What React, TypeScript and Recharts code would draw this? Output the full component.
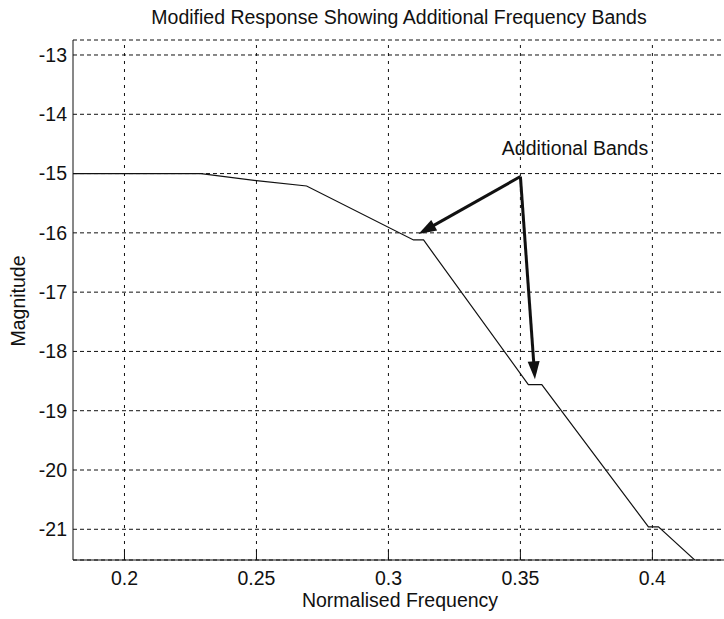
import { LineChart, Line, XAxis, YAxis, CartesianGrid, ReferenceLine, ReferenceDot } from 'recharts';

document.body.style.margin = '0';

const freq = [0.1805, 0.229, 0.25, 0.269, 0.3095, 0.3133, 0.353, 0.3581, 0.3985, 0.4023, 0.4161];
const magnitude = [-15, -15, -15.12, -15.21, -16.12, -16.12, -18.56, -18.56, -20.96, -20.96, -21.52];
const xTicks = [0.2, 0.25, 0.3, 0.35, 0.4];
const yTicks = [-13, -14, -15, -16, -17, -18, -19, -20, -21];
const xDomain = [0.1805, 0.4294];
const yDomain = [-21.518, -12.747];

// annotation: one origin, two arrow targets, and the note above it
const arrowFrom = { f: 0.35, m: -15.05 };
const arrowTo = [
  { f: 0.3114, m: -16.02 },
  { f: 0.3555, m: -18.47 },
];
const noteText = 'Additional Bands';
const notePos = { f: 0.3707, m: -14.575 };

const title = 'Modified Response Showing Additional Frequency Bands';
const xLabel = 'Normalised Frequency';
const yLabel = 'Magnitude';

const data = freq.map((f, i) => ({ f, m: magnitude[i] }));

const font = '"Liberation Sans", Arial, sans-serif';
const ink = '#111';
const fs = 19.5;

const BottomTick = ({ x, y, payload }: any) => (
  <g>
    <line x1={x} x2={x} y1={y - 11} y2={y - 21} stroke={ink} />
    <text x={x} y={y} dy="0.72em" textAnchor="middle" fontSize={fs} fill={ink} fontFamily={font}>
      {payload.value}
    </text>
  </g>
);

const TopTick = ({ x, y }: any) => <line x1={x} x2={x} y1={y} y2={y + 10} stroke={ink} />;

const Arrow = (props: any) => {
  const { x1, y1, x2, y2 } = props;
  const dx = x2 - x1;
  const dy = y2 - y1;
  const len = Math.hypot(dx, dy) || 1;
  const ux = dx / len;
  const uy = dy / len;
  const head = 18;
  const half = 6;
  const bx = x2 - ux * head;
  const by = y2 - uy * head;
  const pts = `${x2},${y2} ${bx - uy * half},${by + ux * half} ${bx + uy * half},${by - ux * half}`;
  return (
    <g>
      <line x1={x1} y1={y1} x2={bx + ux * 2} y2={by + uy * 2} stroke={ink} strokeWidth={3} />
      <polygon points={pts} fill={ink} />
    </g>
  );
};

export default function App() {
  // the plot runs past the right edge of the picture, as in the source figure
  return (
    <div style={{ position: 'relative', width: 724, height: 619, overflow: 'hidden', background: '#fff' }}>
      <LineChart width={730} height={619} data={data} margin={{ top: 40, right: 0, left: 0, bottom: 0 }}>
        <CartesianGrid vertical={false} stroke={ink} strokeDasharray="4 3" />
        {/* vertical grid lines, one per x tick */}
        {xTicks.map((t) => (
          <ReferenceLine key={t} x={t} stroke={ink} strokeDasharray="3 5" />
        ))}
        <XAxis
          dataKey="f"
          type="number"
          domain={xDomain}
          allowDataOverflow
          ticks={xTicks}
          interval={0}
          height={59}
          tickLine={false}
          tickSize={0}
          tickMargin={11}
          tick={(p: any) => <BottomTick {...p} />}
          axisLine={{ stroke: ink }}
        />
        <XAxis
          xAxisId="top"
          orientation="top"
          type="number"
          domain={xDomain}
          allowDataOverflow
          ticks={xTicks}
          interval={0}
          height={0}
          tickLine={false}
          tickSize={0}
          tickMargin={0}
          tick={(p: any) => <TopTick {...p} />}
          axisLine={{ stroke: ink }}
        />
        <YAxis
          type="number"
          domain={yDomain}
          allowDataOverflow
          ticks={yTicks}
          interval={0}
          width={73}
          tickLine={false}
          tickSize={0}
          tickMargin={6}
          tick={{ fill: ink, fontSize: fs, fontFamily: font }}
          axisLine={{ stroke: ink }}
        />
        <Line
          dataKey="m"
          type="linear"
          stroke={ink}
          strokeWidth={1.2}
          dot={false}
          activeDot={false}
          isAnimationActive={false}
        />
        {arrowTo.map((t, i) => (
          <ReferenceLine
            key={i}
            segment={[{ x: arrowFrom.f, y: arrowFrom.m }, { x: t.f, y: t.m }]}
            shape={Arrow}
          />
        ))}
        <ReferenceDot
          x={notePos.f}
          y={notePos.m}
          r={0}
          fill="none"
          stroke="none"
          label={{ value: noteText, position: 'center', fontSize: fs, fill: ink, fontFamily: font }}
        />
      </LineChart>
      <svg width={724} height={619} style={{ position: 'absolute', left: 0, top: 0, pointerEvents: 'none' }}>
        <text x={399} y={24} textAnchor="middle" fontSize={fs} fill={ink} fontFamily={font}>{title}</text>
        <text x={400} y={607} textAnchor="middle" fontSize={fs} fill={ink} fontFamily={font}>{xLabel}</text>
        <text transform="translate(25,301) rotate(-90)" textAnchor="middle" fontSize={fs} fill={ink} fontFamily={font}>
          {yLabel}
        </text>
      </svg>
    </div>
  );
}
